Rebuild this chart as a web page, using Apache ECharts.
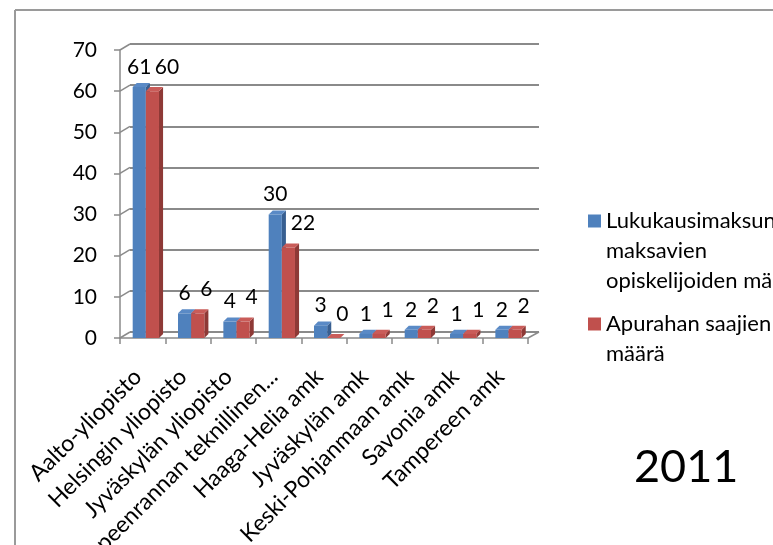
<!DOCTYPE html>
<html>
<head>
<meta charset="utf-8">
<script src="https://cdn.jsdelivr.net/npm/echarts@6/dist/echarts.min.js"></script>
<style>
html,body{margin:0;padding:0;background:#fff;}
#chart{width:773px;height:545px;}
</style>
</head>
<body>
<div id="chart"></div>
<script>
const categories = ["Aalto-yliopisto","Helsingin yliopisto","Jyväskylän yliopisto","Lappeenrannan teknillinen yliopisto","Haaga-Helia amk","Jyväskylän amk","Keski-Pohjanmaan amk","Savonia amk","Tampereen amk"];
const feePayers = [61,6,4,30,3,1,2,1,2];
const grantees = [60,6,4,22,0,1,2,1,2];
const yTicks = [0,10,20,30,40,50,60,70];
const seriesNames = ["Lukukausimaksun maksavien opiskelijoiden määrä","Apurahan saajien määrä"];
const yearText = "2011";

const FONT = 'Lato';
const blue = {front:'#4F81BD', top:'#5A8AC6', side:'#385F91'};
const red = {front:'#C0504D', top:'#C95C59', side:'#8E3936'};

function bar3D(offsetFrac, col, labelAlign, labelDx, labelDy) {
  return function(params, api) {
    const ci = api.value(0), v = api.value(1);
    const base = api.coord([ci, 0]);
    const top = api.coord([ci, v]);
    const bw = api.size([1, 0])[0];
    const w = bw * 0.29;
    const x0 = base[0] + bw * offsetFrac;
    const d = bw * 0.09;
    const ty = top[1], by = base[1];
    return {type:'group', children:[
      {type:'polygon', shape:{points:[[x0+w,ty],[x0+w+d,ty-d],[x0+w+d,by-d],[x0+w,by]]}, style:{fill:col.side}},
      {type:'polygon', shape:{points:[[x0,ty],[x0+d,ty-d],[x0+w+d,ty-d],[x0+w,ty]]}, style:{fill:col.top}},
      {type:'rect', shape:{x:x0, y:ty, width:w, height:by-ty}, style:{fill:col.front}},
      {type:'text', style:{text:String(v), x:x0+labelDx, y:ty-labelDy, align:labelAlign, verticalAlign:'middle', fill:'#000', font:'21px ' + FONT}}
    ]};
  };
}

const chart = echarts.init(document.getElementById('chart'));
chart.setOption({
  animation:false,
  backgroundColor:'#fff',
  grid:[
    {left:120, right:245, top:50, bottom:207, containLabel:false, outerBoundsMode:'none'},
    {left:130, right:234, top:44, bottom:213, containLabel:false, outerBoundsMode:'none'}
  ],
  xAxis:[
    {type:'category', gridIndex:0, data:categories,
     axisLine:{show:true, lineStyle:{color:'#8a8a8a', width:1.5}},
     axisTick:{show:true, length:6, lineStyle:{color:'#8a8a8a', width:1.5}},
     axisLabel:{interval:0, rotate:45, color:'#000', fontFamily:FONT, fontSize:23, margin:30,
                padding:[0, 7, 0, 0],
                width:290, overflow:'truncate', ellipsis:'...'}},
    {type:'value', gridIndex:1, show:false, min:0, max:1}
  ],
  yAxis:[
    {type:'value', gridIndex:0, min:0, max:70, interval:10,
     axisLine:{show:true, lineStyle:{color:'#8a8a8a', width:1.5}},
     axisTick:{show:true, length:6, lineStyle:{color:'#8a8a8a', width:1.5}},
     splitLine:{show:false},
     axisLabel:{color:'#000', fontFamily:FONT, fontSize:21, margin:23}},
    {type:'value', gridIndex:1, min:0, max:70, interval:10,
     axisLine:{show:false}, axisTick:{show:false}, axisLabel:{show:false},
     splitLine:{show:true, lineStyle:{color:'#8a8a8a', width:2}}}
  ],
  legend:[
    {left:583, top:141, orient:'vertical', icon:'rect', itemWidth:13, itemHeight:13, itemGap:0,
     data:[seriesNames[0]],
     formatter:function(){ return '\n\nLukukausimaksun\nmaksavien\nopiskelijoiden määrä'; },
     textStyle:{fontFamily:FONT, fontSize:22, lineHeight:30, color:'#000'}},
    {left:583, top:274, orient:'vertical', icon:'rect', itemWidth:13, itemHeight:13, itemGap:0,
     data:[seriesNames[1]],
     formatter:function(){ return '\nApurahan saajien\nmäärä'; },
     textStyle:{fontFamily:FONT, fontSize:22, lineHeight:30, color:'#000'}}
  ],
  graphic:[
    {type:'line', shape:{x1:15, y1:10, x2:773, y2:10}, style:{stroke:'#9a9a9a', lineWidth:2}},
    {type:'line', shape:{x1:15, y1:10, x2:15, y2:545}, style:{stroke:'#9a9a9a', lineWidth:2}},
    {type:'text', left:634, top:445, style:{text:yearText, font:'45px ' + FONT, fill:'#000'}}
  ],
  series:[
    {type:'custom', name:'diag', xAxisIndex:0, yAxisIndex:0, silent:true,
     data:yTicks.map(v => [0, v]),
     renderItem:function(params, api){
       const v = api.value(1);
       const p = api.coord([0, v]);
       const bw = api.size([1,0])[0];
       const lx = p[0] - bw/2;
       const kids = [{type:'line', shape:{x1:lx, y1:p[1], x2:lx+10, y2:p[1]-6}, style:{stroke:'#8a8a8a', lineWidth:1.5}}];
       if (v === 0) {
         const rx = api.coord([categories.length-1, 0])[0] + bw/2;
         kids.push({type:'line', shape:{x1:rx, y1:p[1], x2:rx+11, y2:p[1]-6}, style:{stroke:'#8a8a8a', lineWidth:1.5}});
       }
       return {type:'group', children:kids};
     }},
    {type:'custom', name:seriesNames[0], xAxisIndex:0, yAxisIndex:0,
     itemStyle:{color:blue.front},
     data:feePayers.map((v,i) => [i, v]),
     renderItem:bar3D(-0.22, blue, 'center', 6.5, 20)},
    {type:'custom', name:seriesNames[1], xAxisIndex:0, yAxisIndex:0,
     itemStyle:{color:red.front},
     data:grantees.map((v,i) => [i, v]),
     renderItem:bar3D(0.07, red, 'left', 9, 24)}
  ]
});
</script>
</body>
</html>
